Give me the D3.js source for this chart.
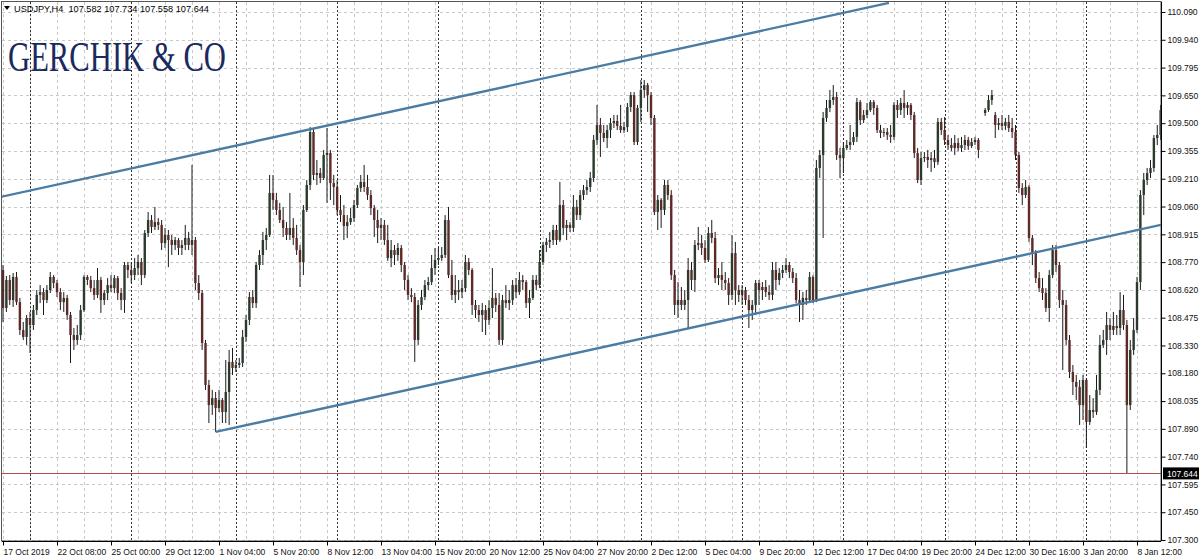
<!DOCTYPE html>
<html><head><meta charset="utf-8">
<script src="https://cdnjs.cloudflare.com/ajax/libs/d3/7.8.5/d3.min.js"></script>
<style>body{margin:0;background:#fff}svg{display:block}</style>
</head><body>
<svg id="c" width="1200" height="560"></svg>
<script>
// ---------- DATA ----------
const symbolTitle = "USDJPY,H4  107.582 107.734 107.558 107.644";
const logoText = "GERCHIK & CO";
const currentPrice = 107.644;
const currentPriceLabel = "107.644";

const priceLabels = ["110.090","109.940","109.795","109.650","109.500","109.355","109.210","109.060","108.915","108.770","108.620","108.475","108.330","108.180","108.035","107.890","107.740","107.595","107.450","107.300"];
const priceTop = 110.090, priceBottom = 107.300;

const timeLabels = ["17 Oct 2019","22 Oct 08:00","25 Oct 00:00","29 Oct 12:00","1 Nov 04:00","5 Nov 20:00","8 Nov 12:00","13 Nov 04:00","15 Nov 20:00","20 Nov 12:00","25 Nov 04:00","27 Nov 20:00","2 Dec 12:00","5 Dec 04:00","9 Dec 20:00","12 Dec 12:00","17 Dec 04:00","19 Dec 20:00","24 Dec 12:00","30 Dec 16:00","3 Jan 20:00","8 Jan 12:00"];
const timeLabelBars = [0,16,32,48,64,80,96,112,128,144,160,176,192,208,224,240,256,272,288,304,320,336];
const weekStartBars = [8,38,69,99,129,159,189,219,249,279,300,321];

const opens = [
108.727,108.526,108.674,108.568,108.690,108.557,108.410,108.373,108.473,108.436,
108.515,108.595,108.610,108.568,108.621,108.690,108.658,108.610,108.557,108.579,
108.489,108.383,108.357,108.383,108.515,108.690,108.674,108.631,108.595,108.674,
108.568,108.605,108.647,108.631,108.684,108.605,108.568,108.753,108.727,108.700,
108.737,108.769,108.700,108.922,108.991,108.954,108.980,108.965,108.869,108.912,
108.885,108.859,108.885,108.843,108.859,108.896,108.859,108.885,108.658,108.605,
108.341,108.119,108.013,108.050,107.997,108.040,107.976,108.082,108.241,108.209,
108.225,108.235,108.373,108.463,108.584,108.552,108.753,108.806,108.885,108.912,
109.134,109.097,109.044,108.991,108.949,108.912,108.949,108.896,108.832,108.769,
109.044,109.176,109.456,109.229,109.239,109.213,109.334,109.345,109.186,109.165,
109.044,109.017,108.959,108.980,109.001,109.070,109.160,109.192,109.165,109.123,
109.054,108.991,108.949,108.965,108.885,108.790,108.832,108.806,108.843,108.753,
108.674,108.595,108.584,108.357,108.542,108.584,108.647,108.663,108.737,108.780,
108.790,108.806,108.991,108.700,108.595,108.621,108.610,108.631,108.769,108.727,
108.542,108.515,108.489,108.515,108.463,108.526,108.579,108.542,108.357,108.568,
108.552,108.568,108.647,108.610,108.674,108.663,108.552,108.579,108.674,108.647,
108.769,108.859,108.875,108.885,108.938,108.885,109.070,108.949,108.965,108.949,
109.060,109.017,109.123,109.149,109.165,109.213,109.414,109.493,109.451,109.424,
109.466,109.503,109.514,109.488,109.466,109.482,109.588,109.651,109.403,109.583,
109.678,109.704,109.651,109.530,109.033,109.097,109.044,109.176,109.123,108.700,
108.542,108.568,108.542,108.568,108.727,108.674,108.859,108.869,108.843,108.780,
108.922,108.896,108.684,108.700,108.674,108.658,108.595,108.816,108.621,108.595,
108.621,108.568,108.515,108.542,108.658,108.621,108.637,108.610,108.595,108.727,
108.674,108.711,108.727,108.753,108.716,108.684,108.568,108.542,108.579,108.568,
108.690,108.568,109.266,109.334,109.530,109.583,109.625,109.641,109.334,109.318,
109.371,109.387,109.403,109.430,109.614,109.519,109.546,109.572,109.614,109.583,
109.466,109.451,109.456,109.440,109.430,109.599,109.572,109.609,109.583,109.599,
109.546,109.345,109.202,109.318,109.324,109.308,109.318,109.297,109.509,109.466,
109.414,109.387,109.371,109.398,109.371,109.387,109.414,109.382,109.403,109.414,
null,109.556,109.572,109.625,109.546,109.493,109.503,109.488,109.509,109.477,
109.456,109.334,109.160,109.123,109.165,108.896,108.816,108.684,108.631,108.605,
108.526,108.700,108.832,108.753,108.568,108.542,108.357,108.188,108.135,108.109,
108.013,108.146,107.924,107.987,107.976,108.093,108.331,108.357,108.436,108.410,
108.431,108.420,108.515,108.436,108.013,108.304,108.410,108.663,109.123,109.202,
109.239,109.266,109.424,109.440];

const highs = [
108.753,108.695,108.700,108.711,108.716,108.579,108.452,108.489,108.505,108.542,
108.621,108.647,108.631,108.647,108.716,108.700,108.674,108.631,108.610,108.595,
108.505,108.420,108.436,108.542,108.700,108.700,108.695,108.674,108.737,108.690,
108.621,108.684,108.700,108.700,108.695,108.631,108.769,108.769,108.764,108.790,
108.806,108.790,108.938,109.033,109.017,109.060,109.001,108.991,108.949,108.938,
108.912,108.901,108.896,108.885,108.965,108.928,109.282,108.901,108.700,108.621,
108.357,108.146,108.093,108.082,108.093,108.050,108.251,108.304,108.315,108.251,
108.262,108.410,108.489,108.610,108.621,108.769,108.832,108.928,108.949,109.229,
109.229,109.134,109.081,109.060,108.980,109.134,109.001,108.965,108.859,109.070,
109.202,109.482,109.477,109.308,109.266,109.361,109.477,109.361,109.229,109.202,
109.123,109.070,109.017,109.054,109.097,109.176,109.229,109.282,109.229,109.149,
109.070,109.044,109.001,108.991,108.965,108.885,108.859,108.869,108.859,108.769,
108.700,108.631,108.605,108.568,108.621,108.674,108.690,108.806,108.843,108.843,
108.848,109.017,109.060,108.780,108.700,108.674,108.674,108.806,108.790,108.737,
108.568,108.542,108.552,108.542,108.568,108.737,108.605,108.605,108.595,108.647,
108.621,108.674,108.684,108.716,108.700,108.674,108.621,108.700,108.700,108.832,
108.875,108.896,108.928,108.965,108.965,109.192,109.097,108.991,108.980,109.123,
109.097,109.149,109.176,109.202,109.245,109.440,109.599,109.530,109.493,109.493,
109.530,109.546,109.546,109.599,109.509,109.609,109.667,109.667,109.599,109.731,
109.731,109.715,109.667,109.546,109.123,109.107,109.202,109.202,109.149,108.727,
108.663,108.637,108.621,108.790,108.769,108.885,108.954,108.912,108.885,108.954,
108.991,108.928,108.737,108.769,108.716,108.684,108.912,108.875,108.647,108.647,
108.637,108.595,108.568,108.674,108.674,108.663,108.674,108.647,108.769,108.769,
108.737,108.753,108.790,108.769,108.737,108.711,108.621,108.610,108.621,108.716,
108.700,109.308,109.361,109.562,109.625,109.678,109.704,109.667,109.371,109.403,
109.414,109.493,109.456,109.636,109.625,109.572,109.609,109.625,109.625,109.599,
109.493,109.477,109.477,109.493,109.614,109.625,109.636,109.678,109.614,109.609,
109.562,109.371,109.350,109.350,109.361,109.350,109.361,109.530,109.530,109.535,
109.440,109.424,109.440,109.424,109.430,109.440,109.430,109.424,109.430,109.424,
null,109.583,109.651,109.678,109.562,109.530,109.546,109.530,109.546,109.530,
109.493,109.350,109.186,109.202,109.176,108.912,108.832,108.716,108.684,108.631,
108.727,108.859,108.859,108.769,108.621,108.568,108.383,108.225,108.172,108.146,
108.172,108.156,108.066,108.050,108.172,108.383,108.410,108.505,108.473,108.505,
108.489,108.610,108.595,108.463,108.357,108.473,108.690,109.149,109.239,109.266,
109.308,109.440,109.493,109.599];

const lows = [
108.452,108.505,108.542,108.531,108.542,108.383,108.357,108.331,108.288,108.410,
108.489,108.552,108.489,108.552,108.605,108.631,108.584,108.515,108.505,108.463,
108.235,108.304,108.331,108.357,108.505,108.647,108.610,108.568,108.579,108.500,
108.542,108.568,108.610,108.605,108.568,108.515,108.500,108.684,108.658,108.674,
108.700,108.647,108.684,108.901,108.922,108.938,108.938,108.832,108.843,108.742,
108.806,108.832,108.806,108.806,108.832,108.832,108.806,108.621,108.568,108.304,
108.093,107.918,107.961,107.871,107.976,107.918,107.918,107.908,108.172,108.188,
108.209,108.214,108.347,108.436,108.526,108.526,108.727,108.753,108.832,108.901,
109.044,109.017,108.975,108.901,108.885,108.885,108.859,108.806,108.637,108.700,
109.033,109.149,109.202,109.176,109.186,109.202,109.081,109.097,109.070,109.017,
108.980,108.885,108.896,108.965,108.980,109.054,109.139,109.139,109.097,109.017,
108.901,108.869,108.885,108.859,108.775,108.742,108.753,108.775,108.716,108.621,
108.568,108.557,108.241,108.331,108.515,108.568,108.621,108.647,108.700,108.753,
108.775,108.790,108.684,108.568,108.552,108.568,108.579,108.610,108.700,108.489,
108.473,108.452,108.399,108.383,108.436,108.473,108.505,108.331,108.331,108.526,
108.515,108.542,108.579,108.595,108.621,108.526,108.473,108.568,108.621,108.631,
108.753,108.822,108.843,108.859,108.859,108.875,108.912,108.885,108.928,108.928,
108.991,108.991,109.097,109.123,109.139,109.192,109.387,109.324,109.403,109.371,
109.424,109.477,109.466,109.451,109.451,109.456,109.562,109.387,109.387,109.509,
109.636,109.562,109.493,109.017,108.938,108.949,109.017,109.097,108.674,108.489,
108.473,108.515,108.515,108.420,108.621,108.610,108.832,108.806,108.764,108.769,
108.869,108.658,108.647,108.621,108.621,108.542,108.568,108.542,108.557,108.542,
108.542,108.420,108.463,108.489,108.542,108.568,108.584,108.568,108.568,108.621,
108.647,108.684,108.711,108.684,108.658,108.552,108.452,108.463,108.542,108.552,
108.552,108.557,109.213,108.896,109.509,109.562,109.599,109.308,109.213,109.239,
109.361,109.361,109.387,109.403,109.493,109.503,109.530,109.562,109.546,109.451,
109.424,109.430,109.414,109.398,109.414,109.530,109.546,109.530,109.546,109.519,
109.318,109.186,109.176,109.297,109.266,109.245,109.266,109.282,109.440,109.387,
109.361,109.355,109.334,109.355,109.350,109.361,109.361,109.371,109.387,109.318,
null,109.541,109.562,109.599,109.424,109.466,109.466,109.466,109.456,109.424,
109.308,109.134,109.070,109.107,108.875,108.753,108.658,108.610,108.568,108.505,
108.452,108.684,108.716,108.526,108.198,108.331,108.156,108.066,108.040,107.908,
107.934,107.786,107.908,107.945,107.961,108.066,108.315,108.278,108.357,108.383,
108.383,108.383,108.410,107.654,107.987,108.278,108.394,108.621,109.017,109.176,
109.213,109.245,109.387,109.414];

const closes = [
108.526,108.674,108.568,108.690,108.557,108.410,108.373,108.473,108.436,108.515,
108.595,108.610,108.568,108.621,108.690,108.658,108.610,108.557,108.579,108.489,
108.383,108.357,108.383,108.515,108.690,108.674,108.631,108.595,108.674,108.568,
108.605,108.647,108.631,108.684,108.605,108.568,108.753,108.727,108.700,108.737,
108.769,108.700,108.922,108.991,108.954,108.980,108.965,108.869,108.912,108.885,
108.859,108.885,108.843,108.859,108.896,108.859,108.885,108.658,108.605,108.341,
108.119,108.013,108.050,107.997,108.040,107.976,108.082,108.241,108.209,108.225,
108.235,108.373,108.463,108.584,108.552,108.753,108.806,108.885,108.912,109.134,
109.097,109.044,108.991,108.949,108.912,108.949,108.896,108.832,108.769,109.044,
109.176,109.456,109.229,109.239,109.213,109.334,109.345,109.186,109.165,109.044,
109.017,108.959,108.980,109.001,109.070,109.160,109.192,109.165,109.123,109.054,
108.991,108.949,108.965,108.885,108.790,108.832,108.806,108.843,108.753,108.674,
108.595,108.584,108.357,108.542,108.584,108.647,108.663,108.737,108.780,108.790,
108.806,108.991,108.700,108.595,108.621,108.610,108.631,108.769,108.727,108.542,
108.515,108.489,108.515,108.463,108.526,108.579,108.542,108.357,108.568,108.552,
108.568,108.647,108.610,108.674,108.663,108.552,108.579,108.674,108.647,108.769,
108.859,108.875,108.885,108.938,108.885,109.070,108.949,108.965,108.949,109.060,
109.017,109.123,109.149,109.165,109.213,109.414,109.493,109.451,109.424,109.466,
109.503,109.514,109.488,109.466,109.482,109.588,109.651,109.403,109.583,109.678,
109.704,109.651,109.530,109.033,109.097,109.044,109.176,109.123,108.700,108.542,
108.568,108.542,108.568,108.727,108.674,108.859,108.869,108.843,108.780,108.922,
108.896,108.684,108.700,108.674,108.658,108.595,108.816,108.621,108.595,108.621,
108.568,108.515,108.542,108.658,108.621,108.637,108.610,108.595,108.727,108.674,
108.711,108.727,108.753,108.716,108.684,108.568,108.542,108.579,108.568,108.690,
108.568,109.266,109.334,109.530,109.583,109.625,109.641,109.334,109.318,109.371,
109.387,109.403,109.430,109.614,109.519,109.546,109.572,109.614,109.583,109.466,
109.451,109.456,109.440,109.430,109.599,109.572,109.609,109.583,109.599,109.546,
109.345,109.202,109.318,109.324,109.308,109.318,109.297,109.509,109.466,109.414,
109.387,109.371,109.398,109.371,109.387,109.414,109.382,109.403,109.414,109.361,
null,109.572,109.625,109.651,109.493,109.503,109.488,109.509,109.477,109.456,
109.334,109.160,109.123,109.165,108.896,108.816,108.684,108.631,108.605,108.526,
108.700,108.832,108.753,108.568,108.542,108.357,108.188,108.135,108.109,108.013,
108.146,107.924,107.987,107.976,108.093,108.331,108.357,108.436,108.410,108.431,
108.420,108.515,108.436,108.013,108.304,108.410,108.663,109.123,109.202,109.239,
109.266,109.424,109.440,109.572];

// trend lines: [bar index, price]
const upperTrend = [[-0.9,109.112],[262.5,110.138]];
const lowerTrend = [[63,107.871],[343.1,108.965]];

// ---------- DRAW ----------
const svg = d3.select('#c');
const P = {left:2, top:2, right:1161, bottom:541};
const x = d3.scaleLinear().domain([0,336]).range([3,1137]);
const y = d3.scaleLinear().domain([priceBottom, priceTop]).range([540,12]);
const FONT = "'Liberation Sans', Arial, sans-serif";

svg.append('rect').attr('width',1200).attr('height',560).attr('fill','#fff');
svg.append('defs').append('clipPath').attr('id','clip').append('rect')
  .attr('x',P.left).attr('y',P.top).attr('width',P.right-P.left).attr('height',P.bottom-P.top);

const step = (priceTop-priceBottom)/(priceLabels.length-1);
const priceValues = priceLabels.map((d,k)=>priceTop-k*step);

const g = svg.append('g').attr('clip-path','url(#clip)');

// grid
const vGrid = d3.range(0, 345, 8);
g.selectAll('.vg').data(vGrid).join('line')
  .attr('x1',d=>Math.round(x(d))+0.5).attr('x2',d=>Math.round(x(d))+0.5)
  .attr('y1',P.top).attr('y2',P.bottom)
  .attr('stroke','#c8c8c8').attr('stroke-dasharray','3,3').attr('stroke-width',1);
g.selectAll('.hg').data(priceValues).join('line')
  .attr('x1',P.left).attr('x2',P.right)
  .attr('y1',d=>Math.round(y(d))+0.5).attr('y2',d=>Math.round(y(d))+0.5)
  .attr('stroke','#c8c8c8').attr('stroke-dasharray','3,3').attr('stroke-width',1);
// week separators
g.selectAll('.sep').data(weekStartBars).join('line')
  .attr('x1',d=>Math.round(x(d))+0.5).attr('x2',d=>Math.round(x(d))+0.5)
  .attr('y1',P.top).attr('y2',P.bottom)
  .attr('stroke','#333').attr('stroke-dasharray','2,2').attr('stroke-width',1);

// current price line
const cpy = Math.round(y(currentPrice)-1.5)+0.5;
g.append('line').attr('x1',P.left).attr('x2',P.right)
  .attr('y1',cpy).attr('y2',cpy)
  .attr('stroke','#b4503f').attr('stroke-width',1);

// candles
const n = Math.min(opens.length, highs.length, lows.length, closes.length);
const bars = d3.range(n).filter(i=>opens[i]!=null && closes[i]!=null)
  .map(i=>({i,o:opens[i],h:highs[i],l:lows[i],c:closes[i]}));
g.selectAll('.wick').data(bars).join('line')
  .attr('x1',d=>x(d.i)).attr('x2',d=>x(d.i))
  .attr('y1',d=>y(d.h)).attr('y2',d=>y(d.l))
  .attr('stroke','#1a1a1a').attr('stroke-width',1);
const bw = 2.4;
g.selectAll('.body').data(bars).join('rect')
  .attr('x',d=>x(d.i)-bw/2).attr('width',bw)
  .attr('y',d=>y(Math.max(d.o,d.c)))
  .attr('height',d=>Math.max(1,Math.abs(y(d.o)-y(d.c))))
  .attr('fill',d=>d.c>=d.o?'#2b3a2c':'#5e2a28');

// trend lines
const line = d3.line().x(d=>x(d[0])).y(d=>y(d[1]));
[upperTrend, lowerTrend].forEach(t=>{
  g.append('path').attr('d',line(t)).attr('fill','none')
   .attr('stroke','#4a7ca4').attr('stroke-width',2.4);
});

// frame
svg.append('rect').attr('x',1.5).attr('y',1.5).attr('width',P.right-1.5).attr('height',P.bottom-1.5)
  .attr('fill','none').attr('stroke','#555').attr('stroke-width',1);

// axes
const yAxis = d3.axisRight(y).tickValues(priceValues).tickFormat((d,k)=>priceLabels[k]).tickSize(4).tickPadding(2);
const ya = svg.append('g').attr('transform',`translate(${P.right+0.5},0)`).call(yAxis);
ya.select('.domain').attr('stroke','#000').attr('d',`M0,${P.top}V${P.bottom}`);
ya.selectAll('text').attr('font-family',FONT).attr('font-size','8.5px').attr('fill','#111');
ya.selectAll('line').attr('stroke','#000');

const xAxis = d3.axisBottom(x).tickValues(timeLabelBars).tickFormat((d,k)=>timeLabels[k]).tickSize(4).tickPadding(3);
const xa = svg.append('g').attr('transform',`translate(0,${P.bottom+0.5})`).call(xAxis);
xa.select('.domain').attr('stroke','#000').attr('d',`M${P.left},0H${P.right}`);
xa.selectAll('text').attr('font-family',FONT).attr('font-size','8.5px').attr('fill','#111')
  .attr('text-anchor','start').attr('dx','0');
xa.selectAll('line').attr('stroke','#000');

// current price tag
const cy = y(currentPrice)-1;
svg.append('rect').attr('x',P.right+2).attr('y',cy-6.5).attr('width',36).attr('height',12).attr('fill','#000');
svg.append('text').attr('x',P.right+6).attr('y',cy+3).attr('font-family',FONT).attr('font-size','8.5px')
  .attr('fill','#fff').text(currentPriceLabel);

// header
svg.append('path').attr('d','M4,6 L10,6 L7,10 Z').attr('fill','#000');
svg.append('text').attr('x',14).attr('y',12).attr('font-family',FONT).attr('font-size','9.2px')
  .attr('fill','#000').attr('xml:space','preserve').style('white-space','pre').text(symbolTitle);

// logo
svg.append('text').attr('x',8).attr('y',71).attr('font-family',"'Liberation Serif','DejaVu Serif',serif")
  .attr('font-size','42px').attr('fill','#1b2a5e').attr('textLength',218).attr('lengthAdjust','spacingAndGlyphs')
  .text(logoText);
</script>
</body></html>
